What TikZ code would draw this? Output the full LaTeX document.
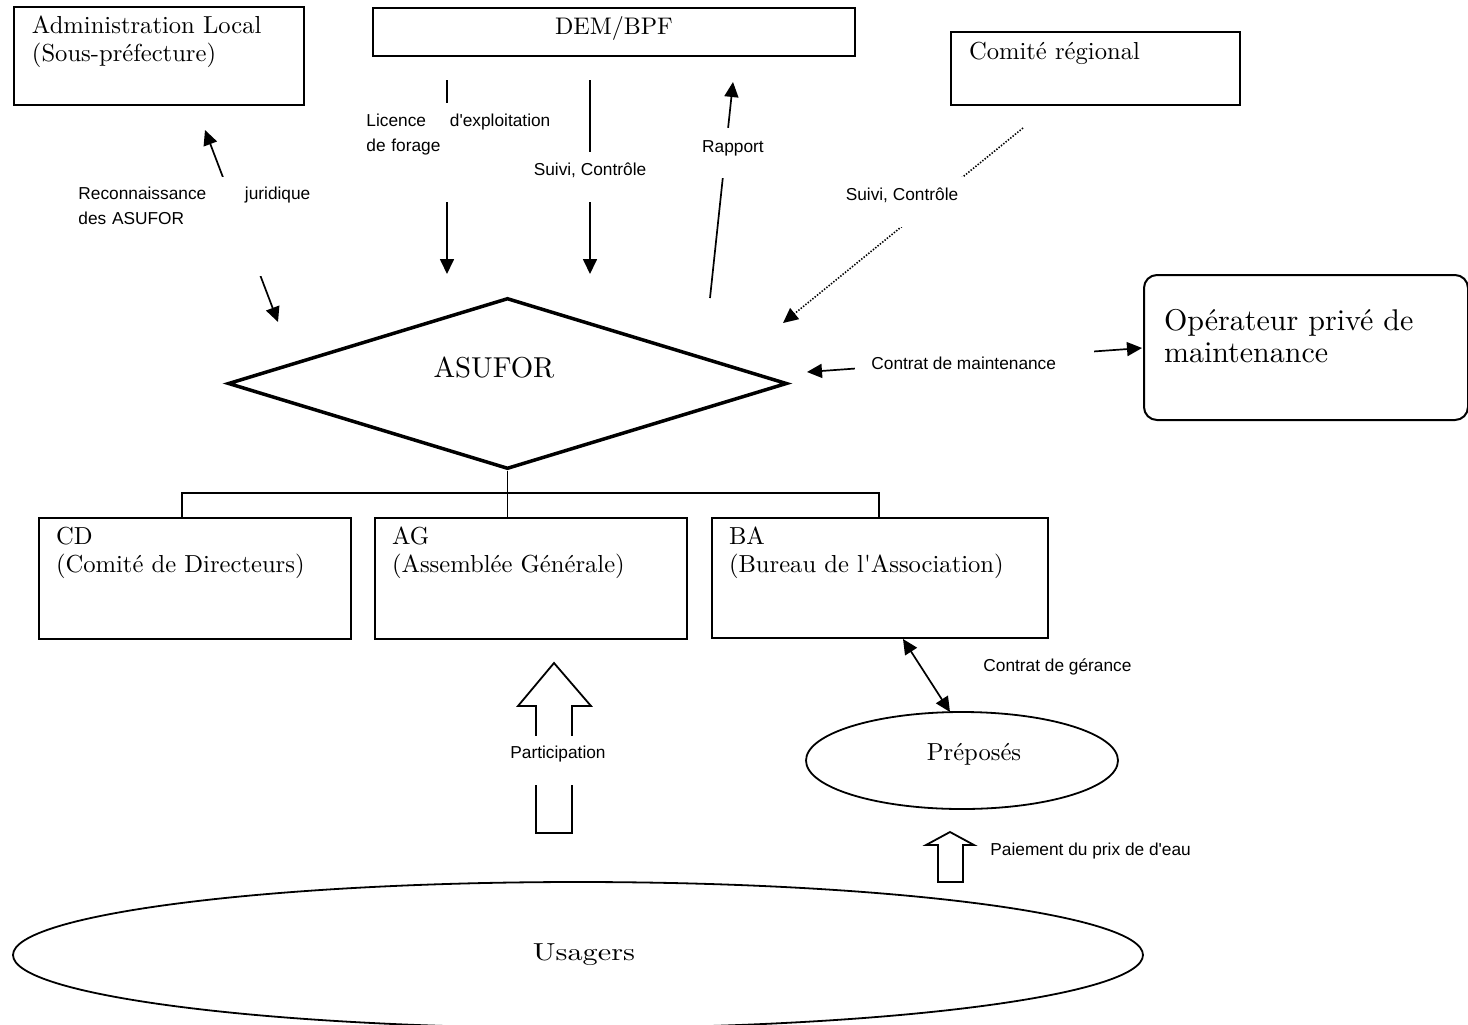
\documentclass[tikz,border=0pt]{standalone}
\usepackage{fontspec}
\usepackage{graphicx}
\setmainfont{lmroman10-regular.otf}[Ligatures=TeXOff]
\newfontfamily\labfont{Liberation Sans}[Ligatures=TeXOff]
\usetikzlibrary{shapes.geometric,arrows.meta}

\newcommand\serifbox{\fontsize{12.3}{14}\selectfont}
\newcommand\demsize{\fontsize{12}{14}\selectfont}
\newcommand\opsize{\fontsize{15}{16}\selectfont}
\newcommand\asusize{\fontsize{14.4}{16}\selectfont}
\newcommand\labsize{\labfont\fontsize{8.65}{12.5}\selectfont}

\tikzset{
  >={Triangle[length=7.5pt,width=7pt]},
  frame/.style={draw, line width=1pt, rectangle, inner ysep=0pt, inner xsep=9pt,
                align=left, anchor=base west, font=\serifbox},
  link/.style={line width=0.85pt},
  dotlink/.style={line width=0.8pt, dash pattern=on 0.7pt off 0.8pt},
  lab/.style={font=\labsize, inner sep=0pt},
  mask/.style={lab, fill=white},
  bracket/.style={line width=0.75pt},
  blockarrow/.style={line width=0.9pt, line join=miter},
  oval/.style={ellipse, draw, line width=0.9pt, inner sep=0pt, font=\serifbox},
}

\begin{document}
\begin{tikzpicture}[x=0.5pt, y=-0.5pt]
\useasboundingbox (0,0) rectangle (1468,1024);

% --- top row -------------------------------------------------------
\node[frame, text width=127pt, text height=13pt, text depth=36pt] (admin) at (13,33)
  {Administration Local\\(Sous-préfecture)};
\node[draw, line width=1pt, minimum width=241pt, inner sep=0pt, text height=13pt,
      text depth=11pt, anchor=base, font=\demsize] (dem) at (614,34) {DEM/BPF};
\node[frame, text width=126.5pt, text height=13.5pt, text depth=23pt] (comite) at (950,59)
  {Comité régional};
\node[frame, rounded corners=6.5pt, inner xsep=10pt, text width=142pt, text height=27.5pt,
      text depth=45pt, font=\opsize] (oper) at (1143,330)
  {Opérateur privé de\\maintenance};

% --- central association ------------------------------------------
\node[diamond, draw, line width=1.75pt, minimum width=279.5pt, minimum height=85.5pt,
      inner sep=0pt,
      label={[font=\asusize, xshift=-6.75pt, yshift=8.25pt]center:ASUFOR}]
  (asufor) at (507.5,383.5) {};

% --- organs -------------------------------------------------------
\node[frame, inner xsep=8.5pt, text width=139pt, text height=13pt, text depth=47.5pt]
  (cd) at (38,544) {CD\\(Comité de Directeurs)};
\node[frame, inner xsep=8.5pt, text width=139pt, text height=13pt, text depth=47.5pt]
  (ag) at (374,544) {AG\\(Assemblée Générale)};
\node[frame, inner xsep=8.5pt, text width=151pt, text height=13pt, text depth=47pt]
  (ba) at (711,544) {BA\\(Bureau de l'Association)};

\coordinate (brL) at (182,493);
\coordinate (brR) at (879,493);
\draw[bracket] (brL |- cd.north) -- (brL) -- (brR) -- (brR |- ba.north);
\draw[bracket] (asufor.south) -- (asufor.south |- ag.north);

% --- users and caretakers -----------------------------------------
\node[oval, minimum width=156pt, minimum height=48.5pt, text height=5pt, text depth=5pt]
  (prep) at (962,760.5) {\hspace*{12pt}Préposés};
\node[oval, minimum width=565pt, minimum height=73pt, text height=7pt, text depth=2pt]
  (usagers) at (578,955) {\hspace*{6pt}\scalebox{1.23}[1]{Usagers}};

% --- legal recognition --------------------------------------------
\coordinate (recAdm) at (205,130);
\coordinate (recAsu) at (278,322);
\draw[link,<->] (recAsu) -- (recAdm);
\node[mask, anchor=base west, text width=116pt, text height=11pt, text depth=38.5pt,
      align=left] (recLab) at (78,199) {Reconnaissance\hfill juridique\\des ASUFOR};

% --- licence ------------------------------------------------------
\coordinate (licTop) at (447,80);
\coordinate (licEnd) at (447,274);
\draw[link,->] (licTop) -- (licEnd);
\node[mask, anchor=base west, text width=92pt, text height=11.5pt, text depth=38pt,
      align=left] (licLab) at (366,126) {Licence\hfill d'exploitation\\de forage};

% --- monitoring by DEM/BPF ----------------------------------------
\coordinate (suiTop) at (590,80);
\coordinate (suiEnd) at (590,274);
\draw[link,->] (suiTop) -- (suiEnd);
\node[mask, anchor=base, text height=11.5pt, text depth=13.5pt, inner xsep=2pt]
  (suiLab) at (590,175) {Suivi, Contrôle};

% --- report -------------------------------------------------------
\coordinate (rapFrom) at (710,298);
\coordinate (rapTo) at (733,82);
\draw[link,->] (rapFrom) -- (rapTo);
\node[mask, anchor=base, text height=12pt, text depth=13pt, inner xsep=2pt]
  (rapLab) at (733,152) {Rapport};

% --- monitoring by regional committee -----------------------------
\coordinate (comFrom) at (1023,128);
\coordinate (comTo) at (783,323);
\draw[dotlink,->] (comFrom) -- (comTo);
\node[mask, anchor=base, text height=11.5pt, text depth=13.5pt, inner xsep=3pt]
  (comLab) at (902,200) {Suivi, Contrôle};

% --- maintenance contract -----------------------------------------
\coordinate (mtL) at (807,372);
\coordinate (mtR) at (1142,348);
\draw[link,<->] (mtL) -- (mtR);
\node[mask, anchor=base west, text height=12pt, text depth=3pt]
  (mtLab) at (855,369) {\hspace*{8pt}Contrat de maintenance\hspace*{19pt}};

% --- management contract ------------------------------------------
\coordinate (gerTop) at (903,639);
\coordinate (gerBot) at (950,712);
\draw[link,<->] (gerTop) -- (gerBot);
\node[lab, anchor=base west] (gerLab) at (983,671) {Contrat de gérance};

% --- participation ------------------------------------------------
\coordinate (partTip) at (554,663);
\draw[blockarrow] (partTip) -- ++(37,43) -- ++(-19,0) -- ++(0,127) -- ++(-36,0)
  -- ++(0,-127) -- ++(-18,0) -- cycle;
\node[mask, anchor=base, text height=11pt, text depth=13.5pt]
  (partLab) at (558,758) {Participation};

% --- water payment ------------------------------------------------
\coordinate (payTip) at (950,832);
\draw[blockarrow] (payTip) -- ++(24,13) -- ++(-11,0) -- ++(0,37) -- ++(-25,0)
  -- ++(0,-37) -- ++(-12,0) -- cycle;
\node[lab, anchor=base west] (payLab) at (990,855) {Paiement du prix de d'eau};

\end{tikzpicture}
\end{document}
